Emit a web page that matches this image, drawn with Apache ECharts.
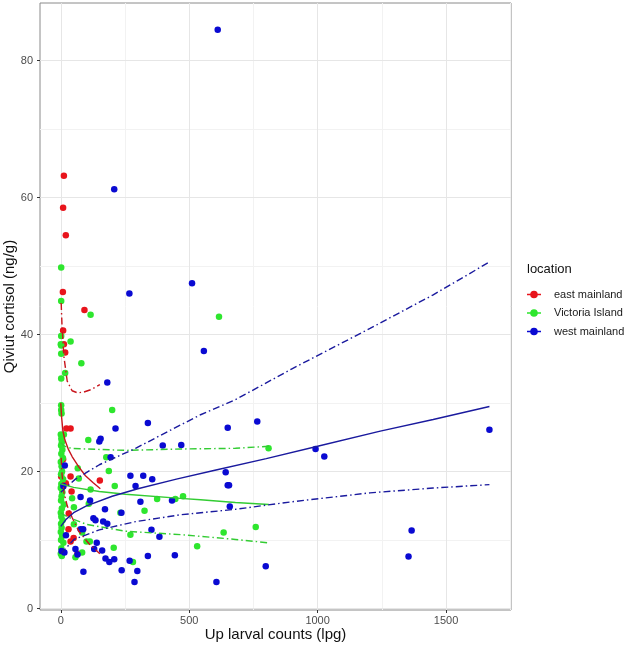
<!DOCTYPE html>
<html><head><meta charset="utf-8">
<script src="https://cdn.jsdelivr.net/npm/echarts@6/dist/echarts.min.js"></script>
<style>html,body{margin:0;padding:0;background:#fff}#c{width:631px;height:647px}</style>
</head><body><div id="c"></div>
<script>
// ---- data ----
const eastPoints = [[12,63.2],[9,58.5],[19.5,54.5],[8,46.2],[92,43.6],[9,40.6],[12,38.6],[17,37.4],[22,26.3],[38,26.3],[9,21.8],[1.5,19.3],[38,19.3],[152,18.7],[19.5,18.3],[42,17.1],[31,13.9],[30,11.6],[38,9.8],[50,10.3],[65,8.0]];
const victoriaPoints = [[1.5,49.8],[1.5,44.9],[116,42.9],[616,42.6],[1.5,39.8],[1.5,38.4],[0,38.6],[38,39.0],[1.5,37.2],[80,35.8],[17,34.4],[1.5,33.6],[1.5,29.7],[1.5,29.0],[3,28.5],[200,29.0],
 [0,25.4],[12,25.4],[2,24.8],[4,24.3],[1,23.8],[6,23.2],[2,22.6],[8,22.0],[0,21.4],[3,20.8],[5,20.0],[1,19.6],[9,18.9],[2,18.2],[0,17.6],[6,17.0],[3,16.4],[1,15.8],[12,15.2],[4,14.6],[0,14.0],[2,13.4],[7,12.9],[1,12.4],[3,11.8],[0,11.2],[5,10.6],[1,10.0],[10,9.6],[2,8.8],[0,8.0],[4,7.7],
 [107,24.6],[177,22.1],[187,20.1],[210,17.9],[66,20.5],[70,19.0],[116,17.4],[44,16.1],[51,14.8],[109,15.3],[232,14.0],[326,14.3],[375,16.0],[446,16.0],[476,16.4],[51,12.3],[83,11.1],[271,10.8],[100,9.8],[113,9.8],[206,8.9],[57,7.5],[83,8.2],[281,6.8],[531,9.1],[634,11.1],[759,11.9],[809,23.4]];
const westPoints = [[611,84.5],[208,61.2],[511,47.5],[267,46.0],[557,37.6],[181,33.0],[650,26.4],[765,27.3],[992,23.3],[1026,22.2],[642,19.9],[650,18.0],[655,18.0],[658,14.9],[798,6.2],[606,3.9],[1669,26.1],[1366,11.4],[1354,7.6],[339,27.1],[397,23.8],[469,23.9],[271,19.4],[321,19.4],[356,18.9],[291,17.9],[310,15.6],[433,15.8],[353,11.5],[384,10.5],[268,7.0],[339,7.7],[444,7.8],[298,5.5],[287,3.9],[213,26.3],[155,24.8],[150,24.4],[194,22.1],[15.5,20.9],[77,16.3],[114,15.8],[172,14.5],[236,14.0],[127,13.2],[135,12.9],[165,12.7],[181,12.4],[10,17.9],[77,11.6],[87,11.6],[20,10.7],[57,8.7],[140,9.6],[130,8.7],[161,8.5],[3,8.4],[14,8.2],[65,7.9],[174,7.3],[208,7.2],[189,6.8],[88,5.4],[237,5.6]];

const eastFit = [[0,30],[3,28],[8,26],[16,24.6],[30,23.2],[44,22.2],[70,20.7],[96,19.4],[125,18.4],[154,17.5]];
const eastUpper = [[1.5,44.6],[5,41],[12,36.8],[25,33.2],[44,31.8],[65,31.5],[89,31.6],[120,32.0],[152,32.7]];
const eastLower = [[1.5,22],[5,19.5],[12,17],[25,15],[44,13.3],[70,11.3],[109,9.5],[152,8.0]];

const victoriaFit = [[0,18.2],[50,17.7],[150,17.1],[252,16.7],[466,16.1],[544,15.9],[680,15.5],[810,15.2]];
const victoriaUpper = [[0,24.2],[15,23.7],[40,23.4],[100,23.3],[252,23.1],[466,23.3],[680,23.4],[810,23.7]];
const victoriaLower = [[0,14.0],[25,13.4],[100,12.3],[252,11.3],[466,10.8],[680,10.1],[810,9.6]];

const westFit = [[0,12],[20,13],[50,14],[100,15],[200,16.4],[300,17.5],[450,18.9],[600,20.2],[800,21.9],[1000,23.7],[1244,25.9],[1450,27.6],[1669,29.5]];
const westUpper = [[0,17.0],[57,18.9],[150,21.0],[291,23.4],[466,26.8],[544,28.3],[680,30.5],[900,35.0],[1204,40.9],[1450,45.8],[1669,50.6]];
const westLower = [[0,8.0],[51,10.1],[150,11.5],[291,12.7],[466,13.7],[680,14.5],[900,15.6],[1204,16.9],[1450,17.6],[1669,18.1]];

const groupNames = ['east mainland','Victoria Island','west mainland'];
const xMajor = [0,500,1000,1500];
const xMinor = [250,750,1250,1750];
const yMajor = [0,20,40,60,80];
const yMinor = [10,30,50,70];

// ---- style ----
const pointColors = ['#e8141c','#2ee62e','#0a0ad2'];
const lineColors = ['#c8141c','#33cc33','#1a1a9e'];
const dashDot = [7,3,1.5,3];
const XMIN = -81, XMAX = 1753, YMIN = -0.2, YMAX = 88.4;
const FONT = 'Liberation Sans, Arial, sans-serif';
const legendIcon = 'path://M0 4.2 H14 V5.8 H0 Z M7 1.2 A3.8 3.8 0 1 1 6.99 1.2 Z';

function scatter(name, data, i){
  return {name, type:'scatter', data, symbol:'circle', symbolSize:6.5,
    itemStyle:{color:pointColors[i], opacity:1}, z:2, xAxisIndex:0, yAxisIndex:0};
}
function line(data, i, dashed){
  return {name:'_l'+i+(dashed?'d':''), type:'line', data, showSymbol:false, symbol:'none', smooth:false,
    lineStyle:{color:lineColors[i], width:1.4, type: dashed?dashDot:'solid'}, z:3, silent:true, xAxisIndex:0, yAxisIndex:0};
}

const chart = echarts.init(document.getElementById('c'), null, {renderer:'canvas'});
chart.setOption({
  animation:false,
  backgroundColor:'#ffffff',
  title:{text:'location', left:522, top:258, textStyle:{fontSize:13, fontWeight:'normal', color:'#111', fontFamily:FONT}},
  legend:{data:groupNames.map((n,i)=>({name:n, icon:legendIcon, itemStyle:{color:pointColors[i]}})),
    orient:'vertical', left:522, top:284, itemWidth:14, itemHeight:10, itemGap:7.5,
    textStyle:{fontSize:11, color:'#1a1a1a', fontFamily:FONT, padding:[0,0,0,8]}},
  grid:{left:40, right:120, top:3, bottom:37, outerBoundsMode:'none', containLabel:false,
    show:true, borderColor:'#8a8a8a', borderWidth:1, backgroundColor:'#fff'},
  xAxis:[
    {type:'value', min:XMIN, max:XMAX, position:'bottom',
     name:'Up larval counts (lpg)', nameLocation:'middle', nameGap:17, nameMoveOverlap:false,
     nameTextStyle:{fontSize:15, color:'#111', fontFamily:FONT},
     axisLine:{show:false, onZero:false}, axisTick:{show:true, length:3, customValues:xMajor, lineStyle:{color:'#333'}},
     axisLabel:{customValues:xMajor, formatter:v=>String(v), color:'#4d4d4d', fontSize:11, margin:5, fontFamily:FONT},
     splitLine:{show:true, lineStyle:{color:'#e6e6e6', width:1}}, z:1},
    {type:'value', min:XMIN, max:XMAX, position:'top', axisLine:{show:false, onZero:false}, axisTick:{show:false, customValues:xMinor},
     axisLabel:{show:false, customValues:xMinor}, splitLine:{show:true, lineStyle:{color:'#f2f2f2', width:1}}, z:0}
  ],
  yAxis:[
    {type:'value', min:YMIN, max:YMAX, position:'left',
     name:'Qiviut cortisol (ng/g)', nameLocation:'middle', nameGap:23, nameRotate:90, nameMoveOverlap:false,
     nameTextStyle:{fontSize:15, color:'#111', fontFamily:FONT},
     axisLine:{show:false, onZero:false}, axisTick:{show:true, length:3, customValues:yMajor, lineStyle:{color:'#333'}},
     axisLabel:{customValues:yMajor, formatter:v=>String(v), color:'#4d4d4d', fontSize:11, margin:7, fontFamily:FONT},
     splitLine:{show:true, lineStyle:{color:'#e6e6e6', width:1}}, z:1},
    {type:'value', min:YMIN, max:YMAX, position:'right', axisLine:{show:false, onZero:false}, axisTick:{show:false, customValues:yMinor},
     axisLabel:{show:false, customValues:yMinor}, splitLine:{show:true, lineStyle:{color:'#f2f2f2', width:1}}, z:0}
  ],
  series:[
    scatter(groupNames[0], eastPoints, 0),
    scatter(groupNames[1], victoriaPoints, 1),
    scatter(groupNames[2], westPoints, 2),
    line(eastFit,0,false), line(eastUpper,0,true), line(eastLower,0,true),
    line(victoriaFit,1,false), line(victoriaUpper,1,true), line(victoriaLower,1,true),
    line(westFit,2,false), line(westUpper,2,true), line(westLower,2,true)
  ]
});
</script>
</body></html>
